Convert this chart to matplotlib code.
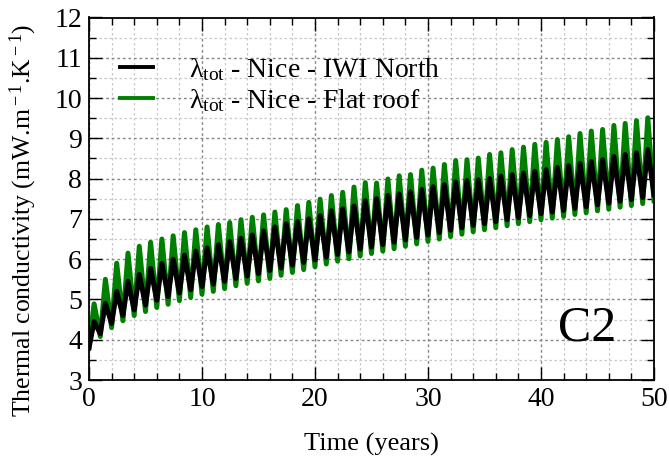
import numpy as np
import matplotlib
matplotlib.use("Agg")
import matplotlib.pyplot as plt
from matplotlib.ticker import MultipleLocator

plt.rcParams['font.family'] = ['Liberation Serif', 'DejaVu Serif']
plt.rcParams['mathtext.fontset'] = 'custom'
plt.rcParams['mathtext.rm'] = 'Liberation Serif'
plt.rcParams['mathtext.it'] = 'Liberation Serif:italic'

# ---- data ----
trough_t = list(range(0, 51))               # years (annual minima)
peak_t = [n + 0.45 for n in range(0, 50)]   # years (annual maxima)

black_peaks = [4.45, 4.90, 5.20, 5.45, 5.62, 5.77, 5.90, 6.00, 6.10, 6.20,
               6.28, 6.36, 6.44, 6.52, 6.60, 6.70, 6.80, 6.88, 6.93, 7.00,
               7.08, 7.20, 7.25, 7.32, 7.45, 7.50, 7.58, 7.62, 7.67, 7.73,
               7.80, 7.85, 7.92, 7.95, 7.97, 8.00, 8.06, 8.10, 8.14, 8.18,
               8.22, 8.28, 8.32, 8.38, 8.43, 8.47, 8.55, 8.60, 8.64, 8.72]
black_troughs = [3.80, 4.15, 4.40, 4.60, 4.74, 4.86, 4.98, 5.07, 5.16, 5.24,
                 5.32, 5.38, 5.45, 5.52, 5.58, 5.64, 5.72, 5.78, 5.85, 5.92,
                 5.98, 6.05, 6.12, 6.18, 6.25, 6.30, 6.36, 6.42, 6.48, 6.54,
                 6.60, 6.66, 6.72, 6.78, 6.84, 6.88, 6.93, 6.98, 7.03, 7.08,
                 7.13, 7.17, 7.21, 7.26, 7.30, 7.35, 7.39, 7.44, 7.48, 7.53,
                 7.60]
green_peaks = [4.89, 5.50, 5.90, 6.15, 6.32, 6.42, 6.50, 6.58, 6.66, 6.73,
               6.80, 6.86, 6.91, 6.98, 7.04, 7.10, 7.17, 7.23, 7.33, 7.41,
               7.49, 7.58, 7.66, 7.79, 7.90, 7.89, 7.99, 8.07, 8.10, 8.21,
               8.26, 8.35, 8.45, 8.47, 8.51, 8.60, 8.64, 8.72, 8.78, 8.85,
               8.90, 8.97, 9.04, 9.12, 9.18, 9.22, 9.32, 9.37, 9.44, 9.51]
green_troughs = [3.80, 4.08, 4.30, 4.47, 4.60, 4.70, 4.80, 4.88, 4.97, 5.05,
                 5.13, 5.20, 5.27, 5.34, 5.40, 5.46, 5.52, 5.60, 5.67, 5.74,
                 5.81, 5.88, 5.95, 6.01, 6.08, 6.14, 6.20, 6.26, 6.32, 6.38,
                 6.44, 6.50, 6.56, 6.62, 6.68, 6.73, 6.78, 6.83, 6.88, 6.93,
                 6.98, 7.02, 7.06, 7.11, 7.15, 7.20, 7.24, 7.29, 7.33, 7.38,
                 7.45]

labels = ['λ$_{\\rm tot}$ - Nice - IWI North',
          'λ$_{\\rm tot}$ - Nice - Flat roof']
colors = ['black', '#008000']


def series(troughs, peaks):
    t = []
    v = []
    for i in range(len(peaks)):
        t += [trough_t[i], peak_t[i]]
        v += [troughs[i], peaks[i]]
    t.append(trough_t[-1])
    v.append(troughs[-1])
    return np.array(t), np.array(v)


fig = plt.figure(figsize=(6.69, 4.66), dpi=100)
ax = fig.add_axes([89 / 669, 86 / 466, (654 - 89) / 669, (380 - 17.5) / 466])

tg, vg = series(green_troughs, green_peaks)
tb, vb = series(black_troughs, black_peaks)
lg, = ax.plot(tg, vg, color=colors[1], lw=3.6, solid_joinstyle='round')
lb, = ax.plot(tb, vb, color=colors[0], lw=3.6, solid_joinstyle='round')

ax.set_xlim(0, 50)
ax.set_ylim(3, 12)
ax.xaxis.set_major_locator(MultipleLocator(10))
ax.xaxis.set_minor_locator(MultipleLocator(2))
ax.yaxis.set_major_locator(MultipleLocator(1))
ax.yaxis.set_minor_locator(MultipleLocator(0.5))

ax.grid(which='minor', color='#c8c8c8', ls=(0, (2, 2)), lw=0.9)
ax.grid(which='major', color='#888888', ls=(0, (2, 2)), lw=1.0)
ax.set_axisbelow(True)

ax.tick_params(which='both', direction='in', top=True, right=True,
               labelsize=20, width=1.0)
ax.tick_params(which='major', length=9.5, pad=5)
ax.tick_params(which='minor', length=5)
for s in ax.spines.values():
    s.set_linewidth(1.3)

ax.set_xlabel('Time (years)', fontsize=19)
ax.xaxis.set_label_coords(0.5, -0.145)
ax.set_ylabel('Thermal conductivity (mW.m$^{\\rm -1}$.K$^{\\rm -1}$)',
              fontsize=18.5)
ax.yaxis.set_label_coords(-0.088, 0.44)

leg = ax.legend([lb, lg], labels, loc='upper left', frameon=False,
                fontsize=20, handlelength=1.2, handletextpad=1.3,
                bbox_to_anchor=(0.035, 0.925), borderaxespad=0, labelspacing=0.15)
for h in leg.get_lines():
    h.set_linewidth(2.8)

ax.text(0.83, 0.11, 'C2', transform=ax.transAxes, fontsize=36,
        ha='left', va='baseline')

fig.savefig('out.png', dpi=100)
